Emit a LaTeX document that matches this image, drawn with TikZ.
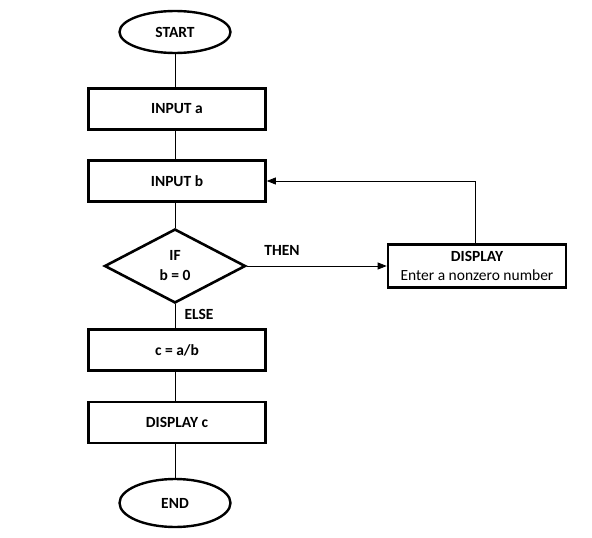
\documentclass[tikz,border=0pt]{standalone}
\usepackage{fontspec}
\setmainfont{Carlito}
\usetikzlibrary{shapes.geometric,arrows.meta}
\begin{document}
\begin{tikzpicture}[x=1pt,y=-1pt,
  every node/.style={font=\fontsize{15.5}{18}\selectfont\bfseries},
  procbox/.style={draw,line width=2.6pt,minimum width=177pt,minimum height=41pt,inner sep=0pt},
  term/.style={draw,ellipse,line width=2.4pt,minimum width=111pt,minimum height=42pt,inner sep=0pt},
  dec/.style={draw,diamond,line width=2.6pt,minimum width=141pt,minimum height=74pt,inner sep=0pt,aspect=1.9,align=center},
  conn/.style={line width=0.8pt},
  arr/.style={conn,-{Triangle[length=9pt,width=7pt]}},
  lbl/.style={inner sep=0pt}]
\useasboundingbox (0,0) rectangle (592,538);
\fill[white] (0,0) rectangle (592,538);
\coordinate (spine) at (175,0);
\node[term] (start) at (175,32) {START};
\node[procbox] (ina) at (177,109) {INPUT a};
\node[procbox] (inb) at (177,181) {INPUT b};
\node[dec] (if) at (175,266) {IF\\[2pt]b = 0};
\node[draw,line width=2.6pt,minimum width=178pt,minimum height=43pt,inner sep=0pt,align=center] (disp) at (477,266) {DISPLAY\\[1pt]{\mdseries Enter a nonzero number}};
\node[procbox] (calc) at (177,350) {c = a/b};
\node[procbox] (dispc) at (177,422.5) {DISPLAY c};
\node[term,minimum height=48pt] (end) at (175,503) {END};
\node[lbl] (then) at (282,250) {THEN};
\node[lbl] (else) at (199,314) {ELSE};
\coordinate (up) at (475,0);
\coordinate (corner) at (up |- inb.east);
\draw[conn] (start) -- (spine |- ina.north);
\draw[conn] (spine |- ina.south) -- (spine |- inb.north);
\draw[conn] (spine |- inb.south) -- (if.north);
\draw[conn] (if.south) -- (spine |- calc.north);
\draw[conn] (spine |- calc.south) -- (spine |- dispc.north);
\draw[conn] (spine |- dispc.south) -- (end.north);
\draw[arr] (if.east) -- (disp.west);
\draw[arr] (up |- disp.north) -- (corner) -- (inb.east);
\end{tikzpicture}
\end{document}
